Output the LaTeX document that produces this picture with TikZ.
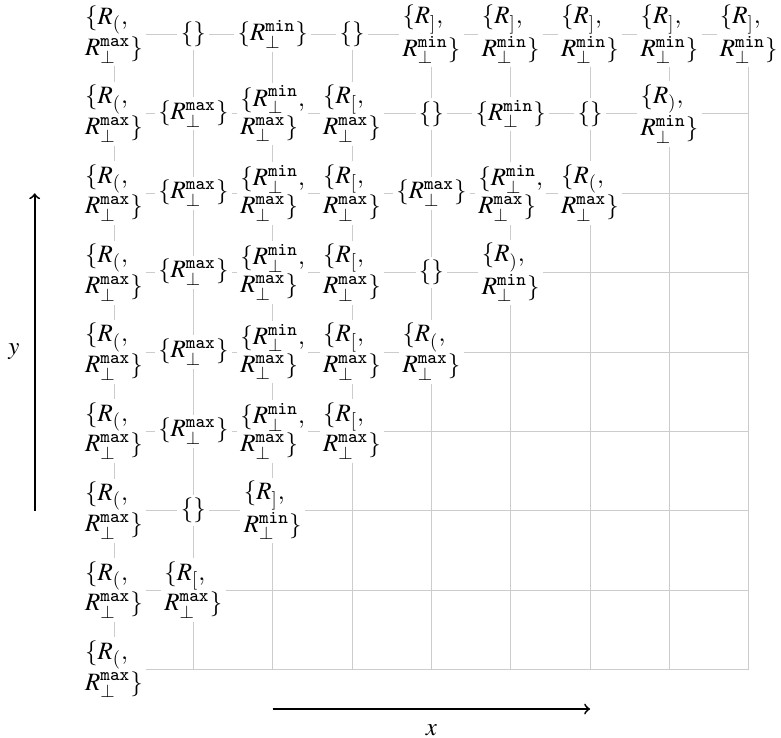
\documentclass[tikz,border=0pt]{standalone}
\usepackage{amsmath,amssymb}
\usepackage{mathptmx}
\usepackage{tikz}
\newcommand{\rmax}{R_\perp^{\mathtt{max}}}
\newcommand{\rmin}{R_\perp^{\mathtt{min}}}

\begin{document}
\begin{tikzpicture}[x=1.23cm,y=1.23cm,>=to,font=\fontsize{11}{12.4}\selectfont,
    cell/.style={fill=white,inner sep=1.5pt,align=left}]
    \useasboundingbox (-1.437,-0.857) rectangle (8.406,8.436);
    % lattice
    \foreach \i in {0,...,8}
      \foreach \j in {0,...,8}
        \coordinate (p\i\j) at (\i,\j);
    \foreach \i in {0,...,8} {
      \draw[black!20] (p\i0) -- (p\i8);
      \draw[black!20] (p0\i) -- (p8\i);
    }
    % top row
    \node[cell] (n08) at (p08) {$\{R_{(},$\\$\rmax\}$};
    \node[cell] (n18) at (p18) {$\{\}$};
    \node[cell] (n28) at (p28) {$\{\rmin\}$};
    \node[cell] (n38) at (p38) {$\{\}$};
    \foreach \i in {4,...,8}
      \node[cell] (n\i8) at (p\i8) {$\{R_{]},$\\$\rmin\}$};
    % row 7
    \node[cell] (n07) at (p07) {$\{R_{(},$\\$\rmax\}$};
    \node[cell] (n17) at (p17) {$\{\rmax\}$};
    \node[cell] (n27) at (p27) {$\{\rmin,$\\$\rmax\}$};
    \node[cell] (n37) at (p37) {$\{R_{[},$\\$\rmax\}$};
    \node[cell] (n47) at (p47) {$\{\}$};
    \node[cell] (n57) at (p57) {$\{\rmin\}$};
    \node[cell] (n67) at (p67) {$\{\}$};
    \node[cell] (n77) at (p77) {$\{R_{)},$\\$\rmin\}$};
    % row 6
    \node[cell] (n06) at (p06) {$\{R_{(},$\\$\rmax\}$};
    \node[cell] (n16) at (p16) {$\{\rmax\}$};
    \node[cell] (n26) at (p26) {$\{\rmin,$\\$\rmax\}$};
    \node[cell] (n36) at (p36) {$\{R_{[},$\\$\rmax\}$};
    \node[cell] (n46) at (p46) {$\{\rmax\}$};
    \node[cell] (n56) at (p56) {$\{\rmin,$\\$\rmax\}$};
    \node[cell] (n66) at (p66) {$\{R_{(},$\\$\rmax\}$};
    % row 5
    \node[cell] (n05) at (p05) {$\{R_{(},$\\$\rmax\}$};
    \node[cell] (n15) at (p15) {$\{\rmax\}$};
    \node[cell] (n25) at (p25) {$\{\rmin,$\\$\rmax\}$};
    \node[cell] (n35) at (p35) {$\{R_{[},$\\$\rmax\}$};
    \node[cell] (n45) at (p45) {$\{\}$};
    \node[cell] (n55) at (p55) {$\{R_{)},$\\$\rmin\}$};
    % row 4
    \node[cell] (n04) at (p04) {$\{R_{(},$\\$\rmax\}$};
    \node[cell] (n14) at (p14) {$\{\rmax\}$};
    \node[cell] (n24) at (p24) {$\{\rmin,$\\$\rmax\}$};
    \node[cell] (n34) at (p34) {$\{R_{[},$\\$\rmax\}$};
    \node[cell] (n44) at (p44) {$\{R_{(},$\\$\rmax\}$};
    % row 3
    \node[cell] (n03) at (p03) {$\{R_{(},$\\$\rmax\}$};
    \node[cell] (n13) at (p13) {$\{\rmax\}$};
    \node[cell] (n23) at (p23) {$\{\rmin,$\\$\rmax\}$};
    \node[cell] (n33) at (p33) {$\{R_{[},$\\$\rmax\}$};
    % rows 2 to 0
    \node[cell] (n02) at (p02) {$\{R_{(},$\\$\rmax\}$};
    \node[cell] (n12) at (p12) {$\{\}$};
    \node[cell] (n22) at (p22) {$\{R_{]},$\\$\rmin\}$};
    \node[cell] (n01) at (p01) {$\{R_{(},$\\$\rmax\}$};
    \node[cell] (n11) at (p11) {$\{R_{[},$\\$\rmax\}$};
    \node[cell] (n00) at (p00) {$\{R_{(},$\\$\rmax\}$};
    % axes
    \coordinate (ylo) at (-1,2);
    \coordinate (yhi) at (-1,6);
    \coordinate (xlo) at (2,-0.5);
    \coordinate (xhi) at (6,-0.5);
    \draw[->,thick] (ylo) -- node[left=3pt] (ylab) {$y$} (yhi);
    \draw[->,thick] (xlo) -- node[below=3pt] (xlab) {$x$} (xhi);
\end{tikzpicture}
\end{document}
